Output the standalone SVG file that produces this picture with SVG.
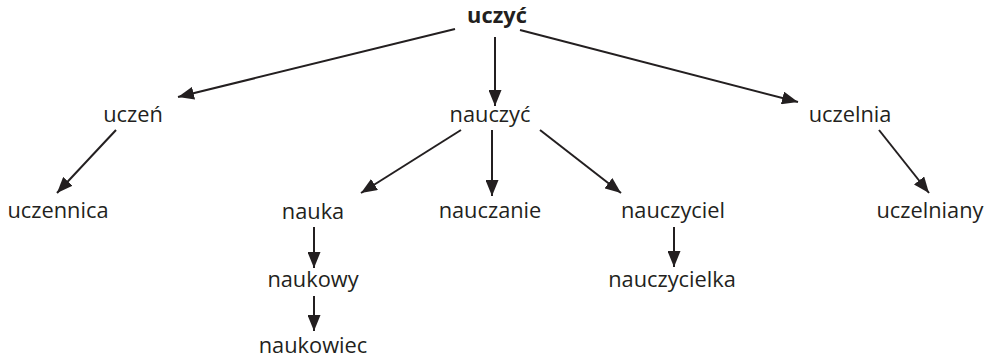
<svg xmlns="http://www.w3.org/2000/svg" width="994" height="361" viewBox="0 0 994 361">
<style>
text{font-family:"Open Sans","Noto Sans","Liberation Sans",sans-serif;font-size:21.8px;fill:#231f20;text-anchor:middle}
.b{font-weight:bold}
.c line{stroke:#231f20;stroke-width:2;marker-end:url(#ah)}
</style>
<defs>
<marker id="ah" markerUnits="userSpaceOnUse" markerWidth="17" markerHeight="13" refX="16" refY="6.5" orient="auto">
<path d="M0,0 L16,6.5 L0,13 z" fill="#231f20"/>
</marker>
</defs>
<rect width="994" height="361" fill="#fff"/>
<g class="c">
<line x1="455" y1="29" x2="178" y2="97"/>
<line x1="495" y1="37" x2="495" y2="106"/>
<line x1="520" y1="30" x2="798" y2="102"/>
<line x1="116" y1="130" x2="57" y2="193"/>
<line x1="461" y1="130" x2="361" y2="193"/>
<line x1="492" y1="130" x2="492" y2="196"/>
<line x1="540" y1="130" x2="621" y2="193"/>
<line x1="879" y1="130" x2="929" y2="193"/>
<line x1="314" y1="227" x2="314" y2="268"/>
<line x1="314" y1="296" x2="314" y2="331"/>
<line x1="674" y1="227" x2="674" y2="267"/>
</g>
<g id="n-uczyc"><text class="b" x="497" y="23">uczyć</text></g>
<g id="n-uczen"><text x="133" y="122">uczeń</text></g>
<g id="n-nauczyc"><text x="490" y="122">nauczyć</text></g>
<g id="n-uczelnia"><text x="850" y="122">uczelnia</text></g>
<g id="n-uczennica"><text x="58" y="218">uczennica</text></g>
<g id="n-nauka"><text x="313" y="219">nauka</text></g>
<g id="n-nauczanie"><text x="490" y="218">nauczanie</text></g>
<g id="n-nauczyciel"><text x="673" y="218">nauczyciel</text></g>
<g id="n-uczelniany"><text x="930" y="218">uczelniany</text></g>
<g id="n-naukowy"><text x="313" y="287">naukowy</text></g>
<g id="n-nauczycielka"><text x="672" y="287">nauczycielka</text></g>
<g id="n-naukowiec"><text x="313" y="353">naukowiec</text></g>
</svg>
